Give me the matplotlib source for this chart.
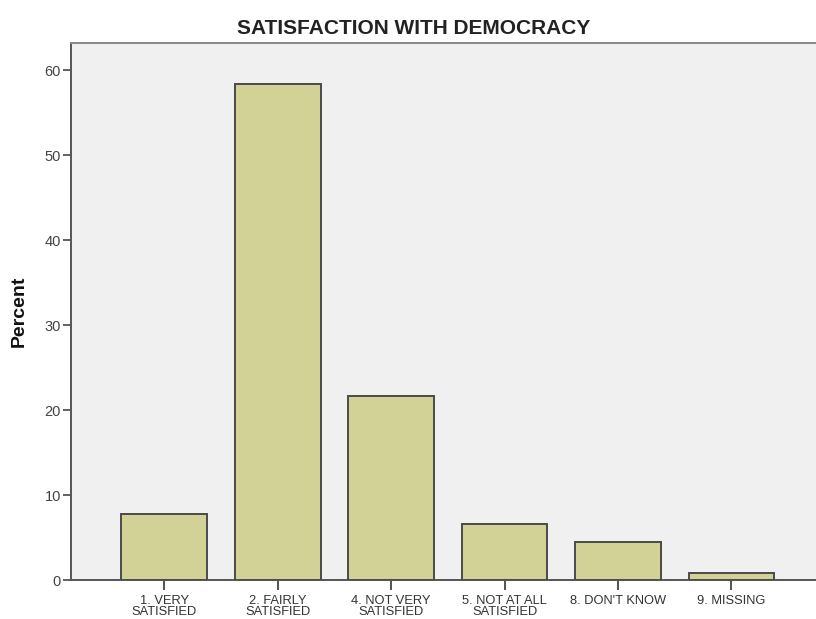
import matplotlib.pyplot as plt

categories = ["1. VERY\nSATISFIED", "2. FAIRLY\nSATISFIED", "4. NOT VERY\nSATISFIED",
              "5. NOT AT ALL\nSATISFIED", "8. DON'T KNOW", "9. MISSING"]
percent = [7.8, 58.4, 21.6, 6.6, 4.5, 0.8]
y_ticks = [0, 10, 20, 30, 40, 50, 60]

fig = plt.figure(figsize=(8.16, 6.19), dpi=100)
ax = fig.add_axes([0.0866, 0.063, 1.0 - 0.0866, 0.8675])
ax.set_facecolor("#f0f0f0")

x = range(len(categories))
ax.bar(x, percent, width=0.755, color="#d2d296", edgecolor="#4a4a4a", linewidth=1.4, zorder=3)

ax.set_xlim(-0.825, 5.745)
ax.set_ylim(0, 63.2)
ax.set_yticks(y_ticks)
ax.set_xticks(list(x))

ax.set_xticklabels(categories, family="Liberation Sans", fontsize=9.3, color="#333333",
                   linespacing=0.85)
ax.set_yticklabels([str(v) for v in y_ticks], family="Liberation Sans", fontsize=10.5,
                   color="#444444")

ax.tick_params(axis="x", length=7, width=1.3, color="#444444", pad=4)
ax.tick_params(axis="y", length=6, width=1.3, color="#555555", pad=1)

for side in ["left", "bottom"]:
    ax.spines[side].set_color("#555555")
    ax.spines[side].set_linewidth(1.4)
ax.spines["top"].set_color("#888888")
ax.spines["top"].set_linewidth(1.4)
ax.spines["right"].set_visible(False)

ax.set_ylabel("Percent", family="Liberation Sans", fontweight="bold", fontsize=14,
              labelpad=12, color="#111111")
fig.text(414 / 816, 1 - 28.5 / 619, "SATISFACTION WITH DEMOCRACY", ha="center", va="center",
         family="Liberation Sans", fontweight="bold", fontsize=15, color="#222222")

fig.savefig("out.png", dpi=100)
